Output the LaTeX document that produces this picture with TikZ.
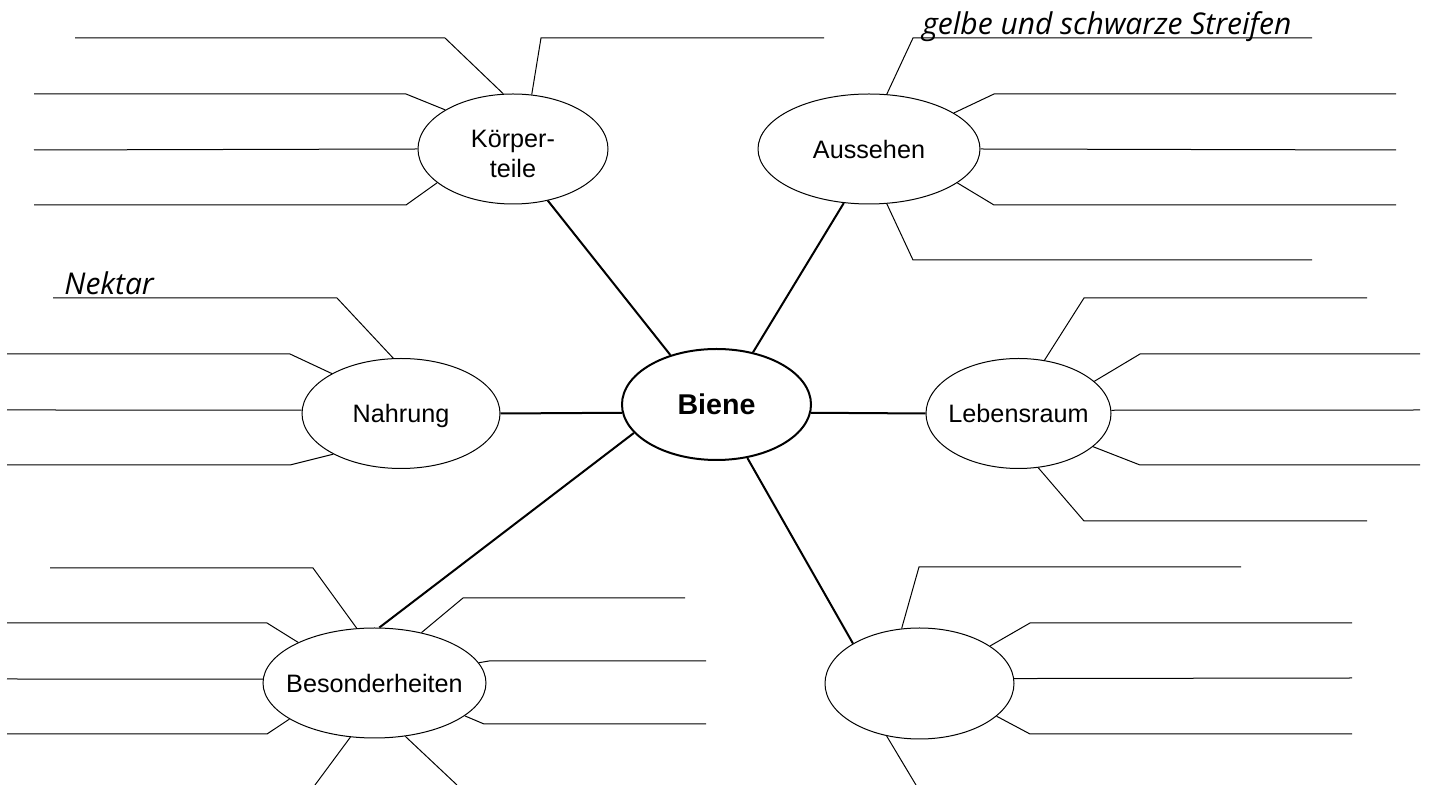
\documentclass[tikz,border=0pt]{standalone}
\usepackage{fontspec}
\setmainfont{Liberation Sans}
\newfontfamily\handfont{Open Sans}
\usetikzlibrary{shapes.geometric}
\newcommand\ovaltext[1]{\makebox[0pt]{#1}}

\begin{document}
\begin{tikzpicture}[x=0.5pt,y=-0.5pt,
    topic/.style={ellipse,draw,line width=0.5pt,inner sep=0pt,minimum height=55pt,text depth=0pt,font=\fontsize{12.6}{15}\selectfont},
    spoke/.style={line width=1pt},
    branch/.style={line width=0.5pt},
    hand/.style={anchor=base west,inner sep=0pt,font=\handfont\itshape\fontsize{15}{18}\selectfont}]

  \useasboundingbox (0,0) rectangle (1432,785);

  % Draw the central ellipse
  \node[topic,line width=1pt,minimum width=94.5pt,minimum height=55.5pt,font=\bfseries\fontsize{14.3}{17}\selectfont] (biene) at (716.5,404.5) {\ovaltext{Biene}};

  % Draw the topic ellipses
  \node[topic,minimum width=95pt] (koerper) at (513,149) {\ovaltext{\raisebox{-6.6pt}[0pt][0pt]{\begin{tabular}{@{}c@{}}Körper-\\teile\end{tabular}}}};
  \node[topic,minimum width=111pt] (aussehen) at (869,149) {\ovaltext{Aussehen}};
  \node[topic,minimum width=99pt] (nahrung) at (401,413.5) {\ovaltext{Nahrung}};
  \node[topic,minimum width=92.5pt] (lebensraum) at (1018.5,413.5) {\ovaltext{Lebensraum}};
  \node[topic,minimum width=111.5pt] (besonder) at (374.5,683) {\ovaltext{Besonderheiten}};
  \node[topic,minimum width=94.5pt,minimum height=55.5pt] (leer) at (919.5,683.5) {};

  % Draw the spokes from the centre
  \draw[spoke] (biene.133) -- (koerper.304);
  \draw[spoke] (biene.55) -- (aussehen.245);
  \draw[spoke] (biene.185) -- (nahrung.0);
  \draw[spoke] (biene.355) -- (lebensraum.180);
  \draw[spoke] (biene.199) -- (besonder.85);
  \draw[spoke] (biene.300) -- (leer.149);

  % Writing lines: Koerperteile
  \draw[branch] (koerper.100) -- (445,38) -- (75,38) coordinate (k1);
  \draw[branch] (koerper.150) -- (406,94) -- (34,94) coordinate (k2);
  \draw[branch] (koerper.180) -- (34,150) coordinate (k3);
  \draw[branch] (koerper.204) -- (406,205) -- (34,205) coordinate (k4);
  \draw[branch] (koerper.71) -- (541,38) -- (824,38) coordinate (k5);

  % Writing lines: Aussehen
  \draw[branch] (aussehen.72) -- (913,38) coordinate (a1c) -- (1312,38) coordinate (a1);
  \draw[branch] (aussehen.23) -- (994,94) -- (1396,94) coordinate (a2);
  \draw[branch] (aussehen.0) -- (1396,150) coordinate (a3);
  \draw[branch] (aussehen.339) -- (994,205) -- (1396,205) coordinate (a4);
  \draw[branch] (aussehen.288) -- (913,260) -- (1312,260) coordinate (a5);

  % Writing lines: Nahrung
  \draw[branch] (nahrung.98) -- (337,298) -- (53,298) coordinate (n1);
  \draw[branch] (nahrung.150) -- (290,354) -- (7,354) coordinate (n2);
  \draw[branch] (nahrung.178) -- (7,410) coordinate (n3);
  \draw[branch] (nahrung.211) -- (290,465) -- (7,465) coordinate (n4);

  % Writing lines: Lebensraum
  \draw[branch] (lebensraum.64) -- (1084,298) -- (1367,298) coordinate (l1);
  \draw[branch] (lebensraum.23) -- (1140,354) -- (1420,354) coordinate (l2);
  \draw[branch] (lebensraum.2) -- (1420,410) coordinate (l3);
  \draw[branch] (lebensraum.336) -- (1140,465) -- (1420,465) coordinate (l4);
  \draw[branch] (lebensraum.290) -- (1084,521) -- (1367,521) coordinate (l5);

  % Writing lines: Besonderheiten
  \draw[branch] (besonder.108) -- (313,568) -- (50,568) coordinate (b1);
  \draw[branch] (besonder.152) -- (267,623) -- (7,623) coordinate (b2);
  \draw[branch] (besonder.178) -- (7,679) coordinate (b3);
  \draw[branch] (besonder.203) -- (267,734) -- (7,734) coordinate (b4);
  \draw[branch] (besonder.47) -- (463,598) -- (685,598) coordinate (b5);
  \draw[branch] (besonder.11) -- (489,661) -- (706,661) coordinate (b6);
  \draw[branch] (besonder.340) -- (484,724) -- (706,724) coordinate (b7);
  \draw[branch] (besonder.246) -- (315,785) coordinate (b8);
  \draw[branch] (besonder.300) -- (457,785) coordinate (b9);

  % Writing lines: empty topic
  \draw[branch] (leer.108) -- (919,567) -- (1241,567) coordinate (e1);
  \draw[branch] (leer.28) -- (1030,623) -- (1352,623) coordinate (e2);
  \draw[branch] (leer.3) -- (1352,678) coordinate (e3);
  \draw[branch] (leer.337) -- (1030,734) -- (1352,734) coordinate (e4);
  \draw[branch] (leer.238) -- (916,785) coordinate (e5);

  % Handwritten answers
  \node[hand] (nektar) at ([shift={(11,-3)}]n1) {Nektar};
  \node[hand] (streifen) at ([shift={(9,-3)}]a1c) {gelbe und schwarze Streifen};
\end{tikzpicture}
\end{document}
